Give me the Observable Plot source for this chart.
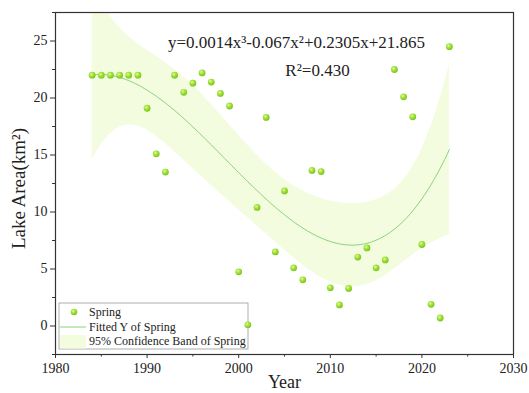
<!DOCTYPE html>
<html>
<head>
<meta charset="utf-8">
<script src="https://cdn.jsdelivr.net/npm/d3@7"></script>
<script src="https://cdn.jsdelivr.net/npm/@observablehq/plot@0.6"></script>
<style>
  body { margin: 0; background: #fff; }
  svg { font-family: "Liberation Serif", "Times New Roman", serif; }
</style>
</head>
<body>
<div id="chart"></div>
<script>
// Spring lake area per year (km²)
const years = [
  1984, 1985, 1986, 1987, 1988, 1989, 1990, 1991, 1992, 1993,
  1994, 1995, 1996, 1997, 1998, 1999, 2000, 2001, 2002, 2003,
  2004, 2005, 2006, 2007, 2008, 2009, 2010, 2011, 2012, 2013,
  2014, 2015, 2016, 2017, 2018, 2019, 2020, 2021, 2022, 2023
];
const areas = [
  22.0, 22.0, 22.0, 22.0, 22.0, 22.0, 19.1, 15.1, 13.5, 22.0,
  20.5, 21.3, 22.2, 21.4, 20.4, 19.3, 4.75, 0.1, 10.4, 18.3,
  6.5, 11.85, 5.1, 4.05, 13.65, 13.55, 3.35, 1.85, 3.3, 6.05,
  6.85, 5.1, 5.8, 22.5, 20.1, 18.35, 7.15, 1.9, 0.7, 24.5
];

const xMajor = [1980, 1990, 2000, 2010, 2020, 2030];
const xMinor = [1985, 1995, 2005, 2015, 2025];
const yMajor = [0, 5, 10, 15, 20, 25];
const yMinor = [-2.5, 2.5, 7.5, 12.5, 17.5, 22.5, 27.5];

const equationLabel = "y=0.0014x³-0.067x²+0.2305x+21.865";
const r2Label = "R²=0.430";
const legendLabels = ["Spring", "Fitted Y of Spring", "95% Confidence Band of Spring"];

const pointFillTop = "#e4fa9c", pointFillMid = "#a2e33c", pointFillEdge = "#7cc41c";
const fitColor = "#8ad27e";
const bandColor = "#f3fcde";

const points = years.map((year, i) => ({year, area: areas[i]}));

// Cubic least-squares fit with a 95% confidence band for the mean
const center = d3.mean(years), span = 20;
const basis = year => { const u = (year - center) / span; return [1, u, u * u, u * u * u]; };
const p = 4, n = points.length;
const XtX = Array.from({length: p}, () => new Array(p).fill(0));
const Xty = new Array(p).fill(0);
for (const d of points) {
  const b = basis(d.year);
  for (let i = 0; i < p; i++) {
    Xty[i] += b[i] * d.area;
    for (let j = 0; j < p; j++) XtX[i][j] += b[i] * b[j];
  }
}
function invert(m) {
  const k = m.length;
  const a = m.map((row, i) => [...row, ...Array.from({length: k}, (_, j) => (i === j ? 1 : 0))]);
  for (let c = 0; c < k; c++) {
    let piv = c;
    for (let r = c + 1; r < k; r++) if (Math.abs(a[r][c]) > Math.abs(a[piv][c])) piv = r;
    [a[c], a[piv]] = [a[piv], a[c]];
    const v = a[c][c];
    for (let j = 0; j < 2 * k; j++) a[c][j] /= v;
    for (let r = 0; r < k; r++) if (r !== c) {
      const f = a[r][c];
      for (let j = 0; j < 2 * k; j++) a[r][j] -= f * a[c][j];
    }
  }
  return a.map(row => row.slice(k));
}
const inv = invert(XtX);
const beta = inv.map(row => d3.sum(row, (v, j) => v * Xty[j]));
const predict = year => d3.sum(basis(year), (v, i) => v * beta[i]);
const sse = d3.sum(points, d => (d.area - predict(d.year)) ** 2);
const s = Math.sqrt(sse / (n - p));
const tCrit = 2.028; // t(0.975, 36)
const leverage = year => {
  const b = basis(year);
  let h = 0;
  for (let i = 0; i < p; i++) for (let j = 0; j < p; j++) h += b[i] * inv[i][j] * b[j];
  return h;
};
const curve = d3.range(years[0], years[years.length - 1] + 0.001, 0.25).map(year => {
  const fit = predict(year), half = tCrit * s * Math.sqrt(leverage(year));
  return {year, fit, lo: fit - half, hi: fit + half};
});

const font = {fontFamily: "'Liberation Serif', 'Times New Roman', serif"};

const chart = Plot.plot({
  width: 529,
  height: 393,
  marginLeft: 55,
  marginRight: 16,
  marginTop: 12,
  marginBottom: 39,
  style: {fontSize: "14px", color: "#222", background: "#fff", ...font},
  x: {domain: [1980, 2030], axis: null},
  y: {domain: [-2.5, 27.5], axis: null},
  marks: [
    Plot.areaY(curve, {x: "year", y1: "lo", y2: "hi", fill: bandColor, clip: true}),
    Plot.line(curve, {x: "year", y: "fit", stroke: fitColor, strokeWidth: 1, clip: true}),
    Plot.dot(points, {x: "year", y: "area", r: 3.4, fill: "url(#ball)", stroke: "none"}),
    Plot.frame({stroke: "#333", strokeWidth: 1.2}),
    Plot.axisX(xMajor, {tickSize: 4, tickPadding: 5, tickFormat: d => String(d), label: null, stroke: "#333"}),
    Plot.axisX(xMinor, {tickSize: 2.5, tickFormat: () => "", label: null, stroke: "#333"}),
    Plot.axisY(yMajor, {tickSize: 5, tickPadding: 3, tickFormat: d => String(d), label: null, stroke: "#333"}),
    Plot.axisY(yMinor, {tickSize: 3, tickFormat: () => "", label: null, stroke: "#333"}),
    Plot.text(["Year"], {frameAnchor: "bottom", textAnchor: "middle", lineAnchor: "middle", dy: 28, fontSize: 18, fill: "#222"}),
    Plot.text(["Lake Area(km²)"], {frameAnchor: "left", textAnchor: "middle", lineAnchor: "middle", rotate: -90, dx: -37, dy: 5, fontSize: 19, fill: "#222"}),
    Plot.text([equationLabel], {frameAnchor: "top", textAnchor: "middle", lineAnchor: "middle", dx: 12, dy: 30.5, fontSize: 17, fill: "#222"}),
    Plot.text([r2Label], {frameAnchor: "top", textAnchor: "middle", lineAnchor: "middle", dx: 33, dy: 58.5, fontSize: 17, fill: "#222"})
  ]
});

const svg = d3.select(chart.tagName.toLowerCase() === "svg" ? chart : chart.querySelector("svg"));
const grad = svg.insert("defs", ":first-child").append("radialGradient")
  .attr("id", "ball").attr("cx", "38%").attr("cy", "35%").attr("r", "65%");
grad.append("stop").attr("offset", "0%").attr("stop-color", pointFillTop);
grad.append("stop").attr("offset", "45%").attr("stop-color", pointFillMid);
grad.append("stop").attr("offset", "100%").attr("stop-color", pointFillEdge);

// Legend box in the lower-left corner of the frame
const [x0] = chart.scale("x").range;
const [y0] = chart.scale("y").range;
const lg = svg.append("g")
  .attr("transform", `translate(${x0 + 4},${y0 - 51})`)
  .attr("text-anchor", "start")
  .style("font-size", "12px");
lg.append("rect").attr("width", 189).attr("height", 46).attr("fill", "#fff").attr("stroke", "#999").attr("stroke-width", 0.8);
lg.append("circle").attr("cx", 15).attr("cy", 9).attr("r", 3.3).attr("fill", "url(#ball)");
lg.append("line").attr("x1", 1).attr("x2", 27).attr("y1", 24).attr("y2", 24).attr("stroke", fitColor);
lg.append("rect").attr("x", 1).attr("y", 32).attr("width", 26).attr("height", 13.5).attr("fill", bandColor);
legendLabels.forEach((t, i) => {
  lg.append("text").attr("x", 30).attr("y", 13 + i * 14.6).attr("fill", "#222").attr("text-anchor", "start").text(t);
});

// Keep the data points above the legend box
svg.select('g[aria-label="dot"]').raise();

document.getElementById("chart").append(chart);
</script>
</body>
</html>
